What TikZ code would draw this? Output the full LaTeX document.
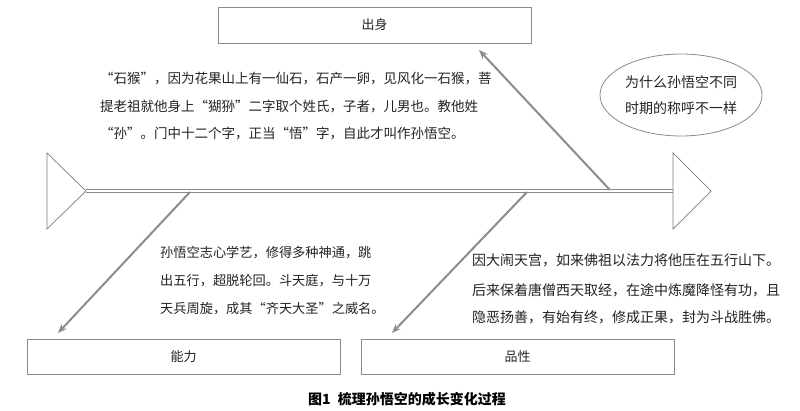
\documentclass[tikz,border=0pt]{standalone}
\usepackage{fontspec}
\newfontfamily\cjk{Noto Sans CJK SC}
\usetikzlibrary{arrows.meta,shapes.geometric}
\definecolor{boxgray}{HTML}{8A8A8A}
\definecolor{arrgray}{HTML}{8C8C8C}
\definecolor{txtcol}{HTML}{222222}
\begin{document}
\begin{tikzpicture}[x=1pt,y=-1pt,
  box/.style={draw=boxgray,line width=0.8pt,minimum width=313pt,minimum height=36pt,inner sep=0pt,font=\cjk\fontsize{13}{15}\selectfont,text=txtcol},
  arr/.style={draw=arrgray,line width=2pt,-{Stealth[length=9pt,width=7pt]}},
  spine/.style={draw=boxgray,line width=0.9pt,double=white,double distance=1.8pt},
  fin/.style={draw=boxgray!90!black,line width=0.7pt,line join=miter},
  txtA/.style={anchor=base west,inner sep=0pt,font=\cjk\fontsize{13.5}{16}\selectfont,text=txtcol},
  txtB/.style={anchor=base west,inner sep=0pt,font=\cjk\fontsize{13.2}{16}\selectfont,text=txtcol},
  txtC/.style={anchor=base west,inner sep=0pt,font=\cjk\fontsize{14}{16}\selectfont,text=txtcol},
  qnode/.style={ellipse,draw=boxgray,line width=0.8pt,minimum width=162pt,minimum height=82pt,inner sep=0pt,align=center,font=\cjk\fontsize{14}{26}\selectfont,text=txtcol},
  captionstyle/.style={inner sep=0pt,font=\cjk\bfseries\fontsize{14}{16}\selectfont,text=black}]
\useasboundingbox (0,0) rectangle (800,411);
% boxes
\node[box] (chushen) at (374.5,25) {出身};
\node[box,minimum height=35pt] (nengli) at (183.5,356.5) {能力};
\node[box,minimum height=35pt] (pinxing) at (517.5,356.5) {品性};
% question ellipse
\node[qnode] (q) at (681,95) {为什么孙悟空不同\\时期的称呼不一样};
% spine
\coordinate (tailapex) at (86,191);
\coordinate (tailtop) at (47,153);
\coordinate (tailbot) at (47,229);
\coordinate (headtop) at (673,153);
\coordinate (headapex) at (711,191);
\coordinate (headbot) at (673,229);
\coordinate (headbase) at (673,191);
\draw[spine] (tailapex) -- (headbase);
\draw[fin] (tailtop) -- (tailapex) -- (tailbot) -- cycle;
\draw[fin] (headtop) -- (headapex) -- (headbot) -- cycle;
% bones
\coordinate (s1) at (610,190);
\coordinate (e1) at (479,50);
\coordinate (s2) at (190,192);
\coordinate (e2) at (58,333);
\coordinate (s3) at (527,192);
\coordinate (e3) at (392,333);
\draw[arr] (s1) -- (e1);
\draw[arr] (s2) -- (e2);
\draw[arr] (s3) -- (e3);
% text block 1
\node[txtA] (a1) at (100,84) {“石猴”，因为花果山上有一仙石，石产一卵，见风化一石猴，菩};
\node[txtA] (a2) at (100,112) {提老祖就他身上“猢狲”二字取个姓氏，子者，儿男也。教他姓};
\node[txtA] (a3) at (100,139) {“孙”。门中十二个字，正当“悟”字，自此才叫作孙悟空。};
% text block 2
\node[txtB] (b1) at (160,258) {孙悟空志心学艺，修得多种神通，跳};
\node[txtB] (b2) at (160,286) {出五行，超脱轮回。斗天庭，与十万};
\node[txtB] (b3) at (160,314) {天兵周旋，成其“齐天大圣”之威名。};
% text block 3
\node[txtC] (c1) at (472,266) {因大闹天宫，如来佛祖以法力将他压在五行山下。};
\node[txtC] (c2) at (472,296) {后来保着唐僧西天取经，在途中炼魔降怪有功，且};
\node[txtC] (c3) at (472,323) {隐恶扬善，有始有终，修成正果，封为斗战胜佛。};
% caption
\node[captionstyle] (caption) at (407,399) {图1\hspace{0.5em}梳理孙悟空的成长变化过程};
\end{tikzpicture}
\end{document}
